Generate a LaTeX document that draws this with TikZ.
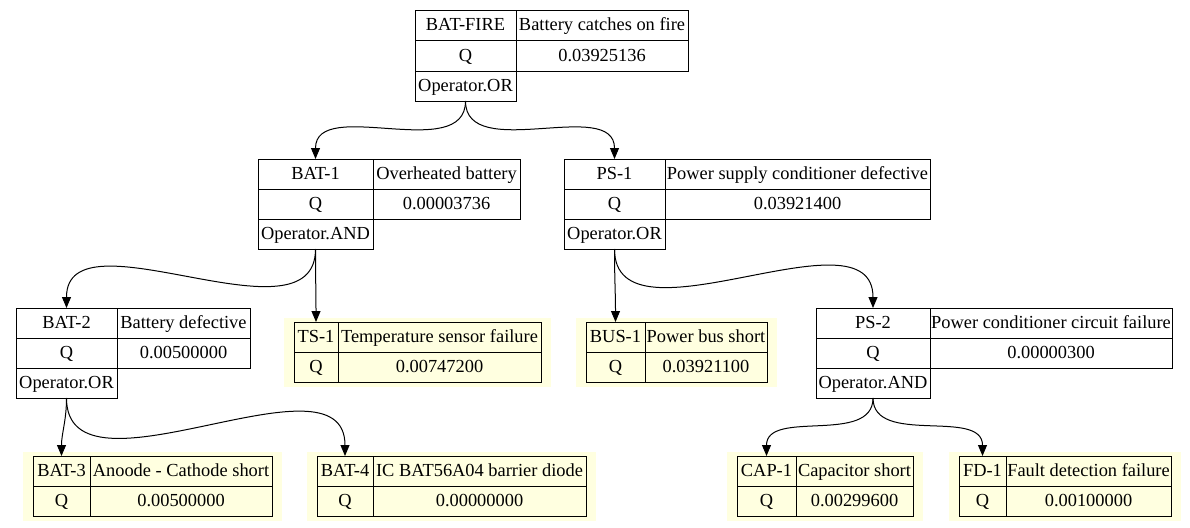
\documentclass[tikz,border=0pt]{standalone}
\usepackage{fontspec}
\setmainfont{Liberation Serif}
\usetikzlibrary{positioning}
\usetikzlibrary{fit}
\usetikzlibrary{backgrounds}
\usetikzlibrary{arrows.meta}
\definecolor{leafyellow}{RGB}{255,255,224}

\begin{document}
\begin{tikzpicture}[x=1pt,y=-1pt,font=\fontsize{18.4pt}{22pt}\selectfont,
cell/.style={draw,line width=1pt,minimum height=30pt,inner xsep=0pt,inner ysep=0pt,outer sep=0pt,text height=14pt,text depth=4pt},
leafcell/.style={cell,fill=leafyellow},
leafbg/.style={fill=leafyellow,inner xsep=10pt,inner ysep=4.5pt},
edge/.style={line width=1pt,-{Triangle[length=11pt,width=9pt]}}]
\useasboundingbox (0,0) rectangle (1190,527);
\node[cell,minimum width=101pt,anchor=north west] (batfire) at (415,11) {BAT-FIRE};
\node[cell,minimum width=172pt,right=0pt of batfire] (batfiredesc) {Battery catches on fire};
\node[cell,minimum width=101pt,below=0pt of batfire] (batfireq) {Q};
\node[cell,minimum width=172pt,right=0pt of batfireq] (batfireval) {0.03925136};
\node[cell,minimum width=101pt,below=0pt of batfireq] (batfireop) {Operator.OR};
\node[cell,minimum width=115pt,anchor=north west] (bat1) at (258,159) {BAT-1};
\node[cell,minimum width=147pt,right=0pt of bat1] (bat1desc) {Overheated battery};
\node[cell,minimum width=115pt,below=0pt of bat1] (bat1q) {Q};
\node[cell,minimum width=147pt,right=0pt of bat1q] (bat1val) {0.00003736};
\node[cell,minimum width=115pt,below=0pt of bat1q] (bat1op) {Operator.AND};
\node[cell,minimum width=101pt,anchor=north west] (ps1) at (564,159) {PS-1};
\node[cell,minimum width=265pt,right=0pt of ps1] (ps1desc) {Power supply conditioner defective};
\node[cell,minimum width=101pt,below=0pt of ps1] (ps1q) {Q};
\node[cell,minimum width=265pt,right=0pt of ps1q] (ps1val) {0.03921400};
\node[cell,minimum width=101pt,below=0pt of ps1q] (ps1op) {Operator.OR};
\node[cell,minimum width=101pt,anchor=north west] (bat2) at (16,308) {BAT-2};
\node[cell,minimum width=133pt,right=0pt of bat2] (bat2desc) {Battery defective};
\node[cell,minimum width=101pt,below=0pt of bat2] (bat2q) {Q};
\node[cell,minimum width=133pt,right=0pt of bat2q] (bat2val) {0.00500000};
\node[cell,minimum width=101pt,below=0pt of bat2q] (bat2op) {Operator.OR};
\node[cell,minimum width=114pt,anchor=north west] (ps2) at (816,308) {PS-2};
\node[cell,minimum width=242pt,right=0pt of ps2] (ps2desc) {Power conditioner circuit failure};
\node[cell,minimum width=114pt,below=0pt of ps2] (ps2q) {Q};
\node[cell,minimum width=242pt,right=0pt of ps2q] (ps2val) {0.00000300};
\node[cell,minimum width=114pt,below=0pt of ps2q] (ps2op) {Operator.AND};
\node[leafcell,minimum width=44pt,anchor=north west] (ts1) at (294,322) {TS-1};
\node[leafcell,minimum width=203pt,right=0pt of ts1] (ts1desc) {Temperature sensor failure};
\node[leafcell,minimum width=44pt,below=0pt of ts1] (ts1q) {Q};
\node[leafcell,minimum width=203pt,right=0pt of ts1q] (ts1val) {0.00747200};
\node[leafcell,minimum width=59pt,anchor=north west] (bus1) at (586,322) {BUS-1};
\node[leafcell,minimum width=122pt,right=0pt of bus1] (bus1desc) {Power bus short};
\node[leafcell,minimum width=59pt,below=0pt of bus1] (bus1q) {Q};
\node[leafcell,minimum width=122pt,right=0pt of bus1q] (bus1val) {0.03921100};
\node[leafcell,minimum width=57pt,anchor=north west] (bat3) at (33,456) {BAT-3};
\node[leafcell,minimum width=182pt,right=0pt of bat3] (bat3desc) {Anoode - Cathode short};
\node[leafcell,minimum width=57pt,below=0pt of bat3] (bat3q) {Q};
\node[leafcell,minimum width=182pt,right=0pt of bat3q] (bat3val) {0.00500000};
\node[leafcell,minimum width=56pt,anchor=north west] (bat4) at (317,456) {BAT-4};
\node[leafcell,minimum width=213pt,right=0pt of bat4] (bat4desc) {IC BAT56A04 barrier diode};
\node[leafcell,minimum width=56pt,below=0pt of bat4] (bat4q) {Q};
\node[leafcell,minimum width=213pt,right=0pt of bat4q] (bat4val) {0.00000000};
\node[leafcell,minimum width=59pt,anchor=north west] (cap1) at (737,456) {CAP-1};
\node[leafcell,minimum width=117pt,right=0pt of cap1] (cap1desc) {Capacitor short};
\node[leafcell,minimum width=59pt,below=0pt of cap1] (cap1q) {Q};
\node[leafcell,minimum width=117pt,right=0pt of cap1q] (cap1val) {0.00299600};
\node[leafcell,minimum width=47pt,anchor=north west] (fd1) at (959,456) {FD-1};
\node[leafcell,minimum width=165pt,right=0pt of fd1] (fd1desc) {Fault detection failure};
\node[leafcell,minimum width=47pt,below=0pt of fd1] (fd1q) {Q};
\node[leafcell,minimum width=165pt,right=0pt of fd1q] (fd1val) {0.00100000};
\begin{scope}[on background layer]
\node[leafbg,fit=(ts1)(ts1val)] (ts1bg) {};
\node[leafbg,fit=(bus1)(bus1val)] (bus1bg) {};
\node[leafbg,fit=(bat3)(bat3val)] (bat3bg) {};
\node[leafbg,fit=(bat4)(bat4val)] (bat4bg) {};
\node[leafbg,fit=(cap1)(cap1val)] (cap1bg) {};
\node[leafbg,fit=(fd1)(fd1val)] (fd1bg) {};
\end{scope}
\draw[edge] (batfireop.south) to[out=-90,in=90] (bat1.north);
\draw[edge] (batfireop.south) to[out=-90,in=90] (ps1.north);
\draw[edge] (bat1op.south) to[out=-90,in=90] (bat2.north);
\draw[edge] (bat1op.south) to[out=-90,in=90] (ts1.north);
\draw[edge] (ps1op.south) to[out=-90,in=90] (bus1.north);
\draw[edge] (ps1op.south) to[out=-90,in=90] (ps2.north);
\draw[edge] (bat2op.south) to[out=-90,in=90] (bat3.north);
\draw[edge] (bat2op.south) to[out=-90,in=90] (bat4.north);
\draw[edge] (ps2op.south) to[out=-90,in=90] (cap1.north);
\draw[edge] (ps2op.south) to[out=-90,in=90] (fd1.north);
\end{tikzpicture}
\end{document}
